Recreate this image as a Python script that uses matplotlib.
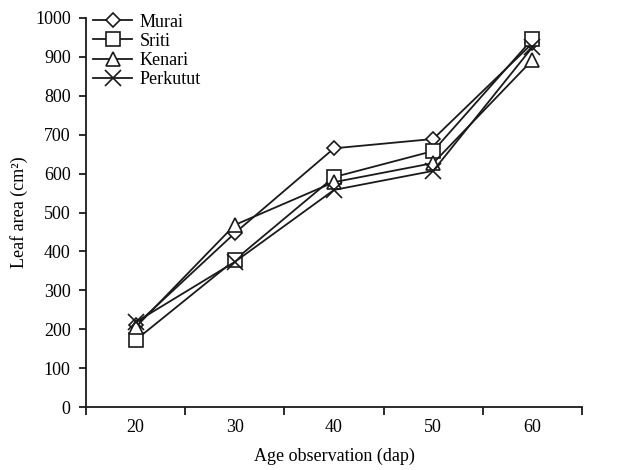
import matplotlib
matplotlib.use("Agg")
import matplotlib.pyplot as plt
from matplotlib.ticker import FixedLocator, NullFormatter

plt.rcParams['font.family'] = ['Liberation Serif', 'DejaVu Serif']

ages = ["20", "30", "40", "50", "60"]
murai = [210, 447, 665, 689, 935]
sriti = [172, 378, 591, 658, 946]
kenari = [205, 468, 578, 627, 892]
perkutut = [218, 373, 558, 607, 925]

series = [("Murai", murai, "D", 7.5),
          ("Sriti", sriti, "s", 9.5),
          ("Kenari", kenari, "^", 10),
          ("Perkutut", perkutut, "x", 11)]

fig = plt.figure(figsize=(6.17, 4.70), dpi=100)
W, H = 617, 470
ax = fig.add_axes([86 / W, 1 - 407 / H, (582 - 86) / W, (407 - 18) / H])

xs = list(range(len(ages)))
col = "#1a1a1a"
for name, vals, mk, ms in series:
    ax.plot(xs, vals, color=col, lw=1.3, marker=mk, markersize=ms,
            markerfacecolor="white", markeredgecolor=col, markeredgewidth=1.2,
            label=name)

ax.set_xlim(-0.5, len(ages) - 0.5)
ax.set_ylim(0, 1000)
ax.set_yticks(range(0, 1001, 100))
ax.set_xticks(xs)
ax.set_xticklabels(ages)
ax.xaxis.set_minor_locator(FixedLocator([i - 0.5 for i in range(len(ages) + 1)]))
ax.xaxis.set_minor_formatter(NullFormatter())
ax.tick_params(axis="x", which="major", length=0, pad=9, labelsize=13)
ax.tick_params(axis="x", which="minor", length=6, width=1.3, direction="out", color=col)
ax.tick_params(axis="y", length=5, width=1.3, direction="out", labelsize=13, color=col, pad=6)

for s in ["top", "right"]:
    ax.spines[s].set_visible(False)
for s in ["left", "bottom"]:
    ax.spines[s].set_linewidth(1.3)
    ax.spines[s].set_color(col)

ax.set_xlabel("Age observation (dap)", fontsize=13, labelpad=8)
ax.set_ylabel("Leaf area (cm²)", fontsize=13, labelpad=5)

ax.legend(loc="upper left", bbox_to_anchor=(80 / W, 1 - 1 / H),
          bbox_transform=fig.transFigure, frameon=False, fontsize=13,
          handlelength=2.2, handletextpad=0.4, labelspacing=0.12,
          borderpad=0.2)

fig.savefig("out.png", dpi=100)
